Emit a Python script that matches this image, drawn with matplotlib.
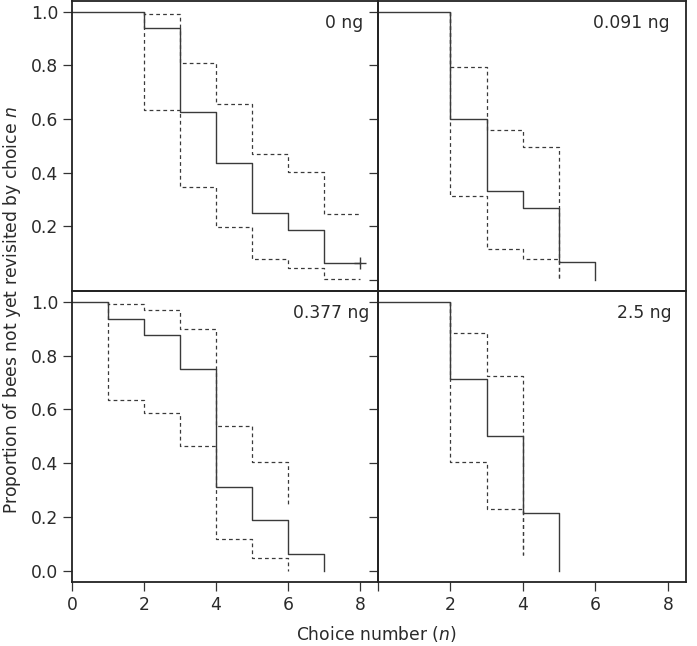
import matplotlib
matplotlib.use("Agg")
import matplotlib.pyplot as plt

# ---- data ----
doses = ["0 ng", "0.091 ng", "0.377 ng", "2.5 ng"]

# Kaplan-Meier estimates: step positions and values after each step
km_x_0 = [2, 3, 4, 5, 6, 7]
km_y_0 = [0.9375, 0.625, 0.4375, 0.25, 0.1875, 0.0625]
up_y_0 = [0.991, 0.81, 0.655, 0.471, 0.401, 0.246]
lo_y_0 = [0.634, 0.348, 0.198, 0.078, 0.046, 0.003]
end_0 = 8  # censored at choice 8

km_x_1 = [2, 3, 4, 5, 6]
km_y_1 = [0.6, 0.333, 0.267, 0.0667, 0.0]
ci_x_1 = [2, 3, 4, 5]
up_y_1 = [0.794, 0.561, 0.494, 0.0]
lo_y_1 = [0.313, 0.117, 0.08, 0.0]

km_x_2 = [1, 2, 3, 4, 5, 6, 7]
km_y_2 = [0.9375, 0.875, 0.75, 0.3125, 0.1875, 0.0625, 0.0]
ci_x_2 = [1, 2, 3, 4, 5, 6]
up_y_2 = [0.993, 0.969, 0.899, 0.538, 0.404, 0.247]
lo_y_2 = [0.635, 0.586, 0.466, 0.117, 0.047, 0.0]

km_x_3 = [2, 3, 4, 5]
km_y_3 = [0.714, 0.5, 0.214, 0.0]
ci_x_3 = [2, 3, 4]
up_y_3 = [0.883, 0.723, 0.058]
lo_y_3 = [0.405, 0.229, 0.058]

x_ticks = [0, 2, 4, 6, 8]
y_ticks = [0.0, 0.2, 0.4, 0.6, 0.8, 1.0]


def step_path(xs, ys, x0, y0=1.0, x_end=None):
    px, py = [x0], [y0]
    prev = y0
    for x, y in zip(xs, ys):
        px += [x, x]
        py += [prev, y]
        prev = y
    if x_end is not None:
        px.append(x_end)
        py.append(prev)
    return px, py


plt.rcParams['font.family'] = ['DejaVu Sans']
FS = 12.3
TXT = "#2a2a2a"
fig = plt.figure(figsize=(6.97, 6.46), dpi=100)

L, M, R = 72 / 697, 378 / 697, 686 / 697
T, H, B = 1 - 1 / 646, 1 - 291 / 646, 1 - 582 / 646

axes = [
    fig.add_axes([L, H, M - L, T - H]),
    fig.add_axes([M, H, R - M, T - H]),
    fig.add_axes([L, B, M - L, H - B]),
    fig.add_axes([M, B, R - M, H - B]),
]

line_col = "#3a3a3a"
panels = [
    (km_x_0, km_y_0, km_x_0, up_y_0, lo_y_0, end_0, end_0),
    (km_x_1, km_y_1, ci_x_1, up_y_1, lo_y_1, None, None),
    (km_x_2, km_y_2, ci_x_2, up_y_2, lo_y_2, None, None),
    (km_x_3, km_y_3, ci_x_3, up_y_3, lo_y_3, None, None),
]
label_x = [0.95, 0.945, 0.97, 0.952]

for i, ax in enumerate(axes):
    ax.set_facecolor("none")
    kx, ky, cx, uy, ly, kend, cend = panels[i]
    ux, uyy = step_path(cx, uy, cx[0], 1.0, cend)
    lx, lyy = step_path(cx, ly, cx[0], 1.0, cend)
    ax.plot(ux, uyy, ls=(0, (3, 2.5)), color=line_col, lw=0.9)
    ax.plot(lx, lyy, ls=(0, (3, 2.5)), color=line_col, lw=0.9)
    sx, sy = step_path(kx, ky, 0, 1.0, kend)
    ax.plot(sx, sy, color=line_col, lw=1.0)
    if kend is not None:
        ax.plot([kend], [ky[-1]], marker="+", ms=9, mew=1.0, color=line_col)

    ax.set_xlim(0, 8.5)
    ax.set_ylim(-0.041, 1.04)
    for s in ax.spines.values():
        s.set_linewidth(1.3)
        s.set_color("#222222")
    ax.tick_params(direction="out", length=6.5, width=0.9, color="#333333",
                   labelsize=FS, labelcolor=TXT)
    ax.text(label_x[i], 0.925, doses[i], transform=ax.transAxes,
            ha="right", va="center", fontsize=FS, color=TXT)

    if i in (0, 2):
        if i == 0:
            ax.set_yticks(y_ticks[1:])
        else:
            ax.set_yticks(y_ticks)
        ax.set_yticklabels([f"{v:.1f}" for v in ax.get_yticks()])
    else:
        ax.set_yticks(y_ticks)
        ax.set_yticklabels([])
    if i in (2, 3):
        ax.set_xticks(x_ticks)
        if i == 3:
            ax.set_xticklabels([""] + [str(v) for v in x_ticks[1:]])
        else:
            ax.set_xticklabels([str(v) for v in x_ticks])
    else:
        ax.set_xticks([])

fig.text(12 / 697, 1 - 310 / 646,
         "Proportion of bees not yet revisited by choice $\\it{n}$",
         rotation=90, ha="center", va="center", fontsize=FS, color=TXT)
fig.text(376 / 697, 1 - 634 / 646, "Choice number ($\\it{n}$)",
         ha="center", va="center", fontsize=FS, color=TXT)

fig.savefig("out.png", dpi=100)
